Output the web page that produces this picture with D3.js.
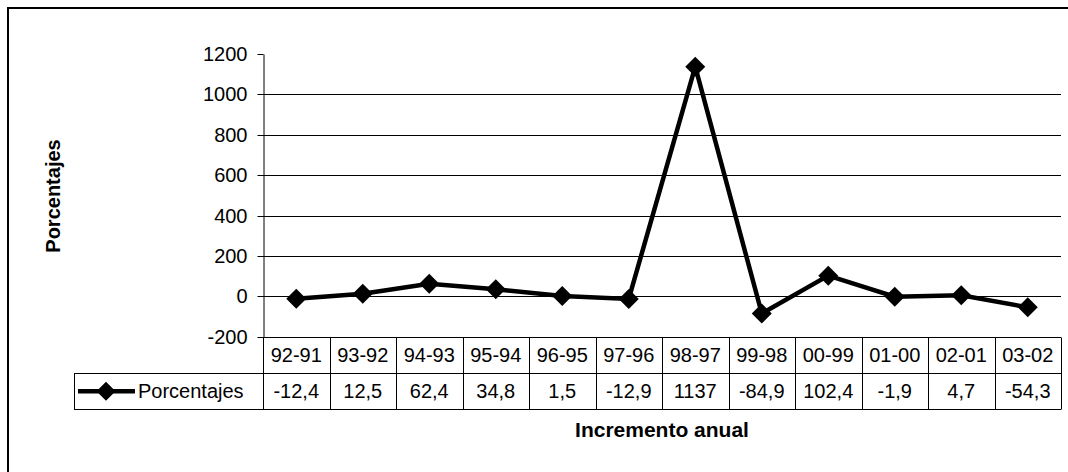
<!DOCTYPE html>
<html>
<head>
<meta charset="utf-8">
<script src="https://cdn.jsdelivr.net/npm/d3@7"></script>
<style>
  html, body { margin: 0; padding: 0; background: #fff; }
  svg { display: block; font-family: "Liberation Sans", Arial, sans-serif; }
</style>
</head>
<body>
<script>
const categories = ["92-91","93-92","94-93","95-94","96-95","97-96","98-97","99-98","00-99","01-00","02-01","03-02"];
const values = [-12.4, 12.5, 62.4, 34.8, 1.5, -12.9, 1137, -84.9, 102.4, -1.9, 4.7, -54.3];
const valueLabels = ["-12,4","12,5","62,4","34,8","1,5","-12,9","1137","-84,9","102,4","-1,9","4,7","-54,3"];
const yTicks = [-200, 0, 200, 400, 600, 800, 1000, 1200];
const seriesName = "Porcentajes";
const yTitle = "Porcentajes";
const xTitle = "Incremento anual";

(function () {
const W = 1068, H = 472;
const FONT = '"Liberation Sans", Arial, sans-serif';
const svg = d3.select("body").append("svg").attr("width", W).attr("height", H);

// outer frame (extends past right/bottom edge)
svg.append("rect").attr("x", 8).attr("y", 8).attr("width", 1100).attr("height", 500)
  .attr("fill", "none").attr("stroke", "#000").attr("stroke-width", 2);

const pLeft = 263, pRight = 1061, pTop = 54, pBottom = 336.7;
const x = d3.scaleBand().domain(categories).range([pLeft, pRight]).padding(0);
const y = d3.scaleLinear().domain([-200, 1200]).range([pBottom, pTop]);
const rr = v => Math.round(v) + 0.5;

// gridlines
svg.append("g").selectAll("line").data(yTicks.filter(t => t > -200 && t < 1200)).join("line")
  .attr("x1", pLeft).attr("x2", pRight)
  .attr("y1", d => rr(y(d))).attr("y2", d => rr(y(d)))
  .attr("stroke", "#000").attr("stroke-width", 1);

// y axis
const yAxis = d3.axisLeft(y).tickValues(yTicks).tickFormat(d => String(d))
  .tickSize(6).tickSizeOuter(0).tickPadding(10);
const gy = svg.append("g").attr("transform", `translate(${pLeft + 0.5},0)`).call(yAxis);
gy.attr("font-size", 20).attr("font-family", FONT);
gy.select(".domain").attr("stroke", "#000");
gy.selectAll(".tick line").attr("stroke", "#000");
gy.selectAll(".tick").attr("transform", d => `translate(0,${rr(y(d))})`);
gy.selectAll("text").attr("fill", "#000");

// data table
const rowTop = pBottom, row1 = 373.3, row2 = 409;
const tbl = svg.append("g").attr("stroke", "#000").attr("stroke-width", 1).attr("fill", "none");
tbl.append("line").attr("x1", pLeft).attr("x2", pRight).attr("y1", rr(rowTop)).attr("y2", rr(rowTop));
tbl.append("line").attr("x1", 74).attr("x2", pRight).attr("y1", rr(row1)).attr("y2", rr(row1));
tbl.append("line").attr("x1", 74).attr("x2", pRight).attr("y1", rr(row2)).attr("y2", rr(row2));
tbl.append("line").attr("x1", rr(74)).attr("x2", rr(74)).attr("y1", rr(row1)).attr("y2", rr(row2));
const edges = categories.map(c => x(c)).concat([pRight]);
tbl.selectAll(".v").data(edges).join("line").attr("class", "v")
  .attr("x1", d => rr(d)).attr("x2", d => rr(d))
  .attr("y1", rr(rowTop)).attr("y2", rr(row2));

svg.append("g").selectAll("text").data(categories).join("text")
  .attr("x", d => x(d) + x.bandwidth() / 2).attr("y", (rowTop + row1) / 2 + 7)
  .attr("text-anchor", "middle").attr("font-size", 20).text(d => d);
svg.append("g").selectAll("text").data(valueLabels).join("text")
  .attr("x", (d, i) => x(categories[i]) + x.bandwidth() / 2).attr("y", (row1 + row2) / 2 + 7)
  .attr("text-anchor", "middle").attr("font-size", 20).text(d => d);

function diamondPath(r) { return `M0,${-r}L${r},0L0,${r}L${-r},0Z`; }

// legend key in table
const ly = (row1 + row2) / 2;
svg.append("line").attr("x1", 78).attr("x2", 135).attr("y1", ly).attr("y2", ly)
  .attr("stroke", "#000").attr("stroke-width", 4.5);
svg.append("path").attr("d", diamondPath(9.5)).attr("transform", `translate(106,${ly})`).attr("fill", "#000");
svg.append("text").attr("x", 138).attr("y", ly + 7).attr("font-size", 20).text(seriesName);

// series line
const pts = values.map((v, i) => [x(categories[i]) + x.bandwidth() / 2, y(v)]);
svg.append("path").attr("d", d3.line()(pts)).attr("fill", "none")
  .attr("stroke", "#000").attr("stroke-width", 4.5).attr("stroke-linejoin", "miter");
svg.append("g").selectAll("path").data(pts).join("path")
  .attr("d", diamondPath(10)).attr("transform", d => `translate(${d[0]},${d[1]})`).attr("fill", "#000");

// axis titles
svg.append("text").attr("transform", `translate(60,196) rotate(-90)`)
  .attr("text-anchor", "middle").attr("font-size", 20).attr("font-weight", "bold").text(yTitle);
svg.append("text").attr("x", 662).attr("y", 437)
  .attr("text-anchor", "middle").attr("font-size", 21).attr("font-weight", "bold").text(xTitle);
})();
</script>
</body>
</html>
